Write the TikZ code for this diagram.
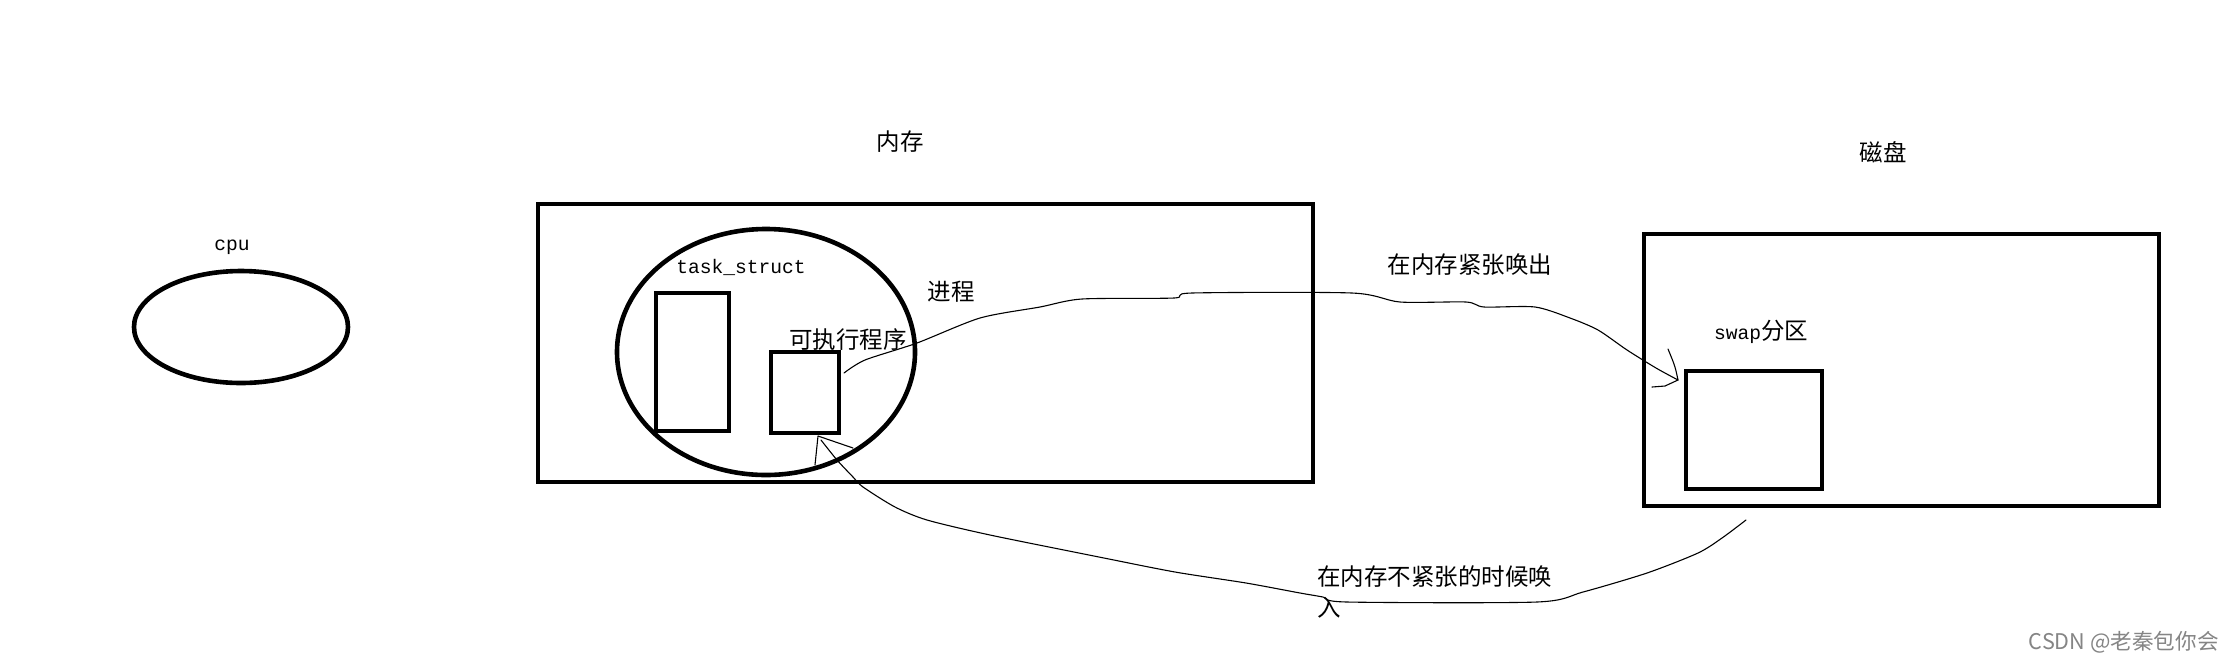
\documentclass[tikz,border=0pt]{standalone}
\usepackage{fontspec}
\setmainfont{Noto Sans CJK SC}
\newfontfamily\mymono{Liberation Mono}
\newfontfamily\mycjk{Noto Sans CJK SC}
\usetikzlibrary{shapes.geometric}
\begin{document}
\begin{tikzpicture}[x=0.5pt,y=-0.5pt,
  box/.style={draw, line width=2.3pt, inner sep=0pt, rectangle},
  oval/.style={draw, line width=2.3pt, inner sep=0pt, ellipse},
  lbl/.style={inner sep=0pt, font=\mycjk\fontsize{11.75}{14}\selectfont},
  monolbl/.style={inner sep=0pt, font=\mymono\fontsize{9.8}{12}\selectfont},
  wire/.style={line width=0.55pt, line join=round, line cap=round},
  wmark/.style={inner sep=0pt, text=black!48, font=\mycjk\fontsize{10.8}{13}\selectfont}]
\fill[white] (0,0) rectangle (2236,660);
\useasboundingbox (0,0) rectangle (2236,660);

% CPU
\node[oval, minimum width=107pt, minimum height=56pt] (cpu) at (241,327) {};
\node[monolbl] (cpulbl) at (232,247) {cpu};

% memory
\node[box, minimum width=387.5pt, minimum height=139pt] (mem) at (925.5,343) {};
\node[lbl] (memlbl) at (900,142) {内存};
\node[oval, minimum width=149pt, minimum height=123pt] (proc) at (766,352) {};
\node[box, minimum width=36.5pt, minimum height=69pt] (tsk) at (692.5,362) {};
\node[box, minimum width=34pt, minimum height=40.5pt] (exe) at (805,392.5) {};
\node[monolbl] (tsklbl) at (741,267) {task\_struct};
\node[lbl] (exelbl) at (848,340) {可执行程序};
\node[lbl] (proclbl) at (951,292) {进程};

% disk
\node[box, minimum width=257.5pt, minimum height=136pt] (disk) at (1901.5,370) {};
\node[lbl] (disklbl) at (1883,152) {磁盘};
\node[box, minimum width=68pt, minimum height=59pt] (swap) at (1754,430) {};
\node[inner sep=0pt] (swaplbl) at (1761,332) {{\mymono\fontsize{9.8}{12}\selectfont swap}{\mycjk\fontsize{11.75}{14}\selectfont 分区}};

% swap out
\coordinate (outA) at (844,373);
\coordinate (outB) at (1678,380);
\draw[wire] plot[smooth, tension=0.45] coordinates {(outA) (865,360) (917,343) (980,318) (1040,307) (1082,299) (1174,298) (1192,293) (1352,293) (1400,302) (1466,302) (1484,307) (1535,307) (1570,318) (1598,330) (1627,350) (1656,368) (outB)};
\draw[wire] (1668,349) .. controls (1675,366) .. (outB) -- (1665,386) -- (1652,387);
\node[lbl] (outlbl) at (1470,265) {在内存紧张唤出};

% swap in
\coordinate (inA) at (1746,520);
\coordinate (inB) at (821,440);
\draw[wire] plot[smooth, tension=0.45] coordinates {(inA) (1722,538) (1698,553) (1647,573) (1583,592) (1537,602) (1347,602) (1323,597) (1300,593) (1246,583) (1175,572) (1099,557) (990,535) (927,520) (895,507) (863,487) (853,477) (837,460) (inB)};
\draw[wire] (815,465) -- (818,436) -- (853,448);
\node[lbl, anchor=west] (inlbl) at (1317,577) {在内存不紧张的时候唤};
\node[lbl, anchor=west] (inlbl2) at (1317,608) {入};

% watermark
\node[wmark, anchor=east] (wm) at (2219,642) {CSDN @老秦包你会};
\end{tikzpicture}
\end{document}
